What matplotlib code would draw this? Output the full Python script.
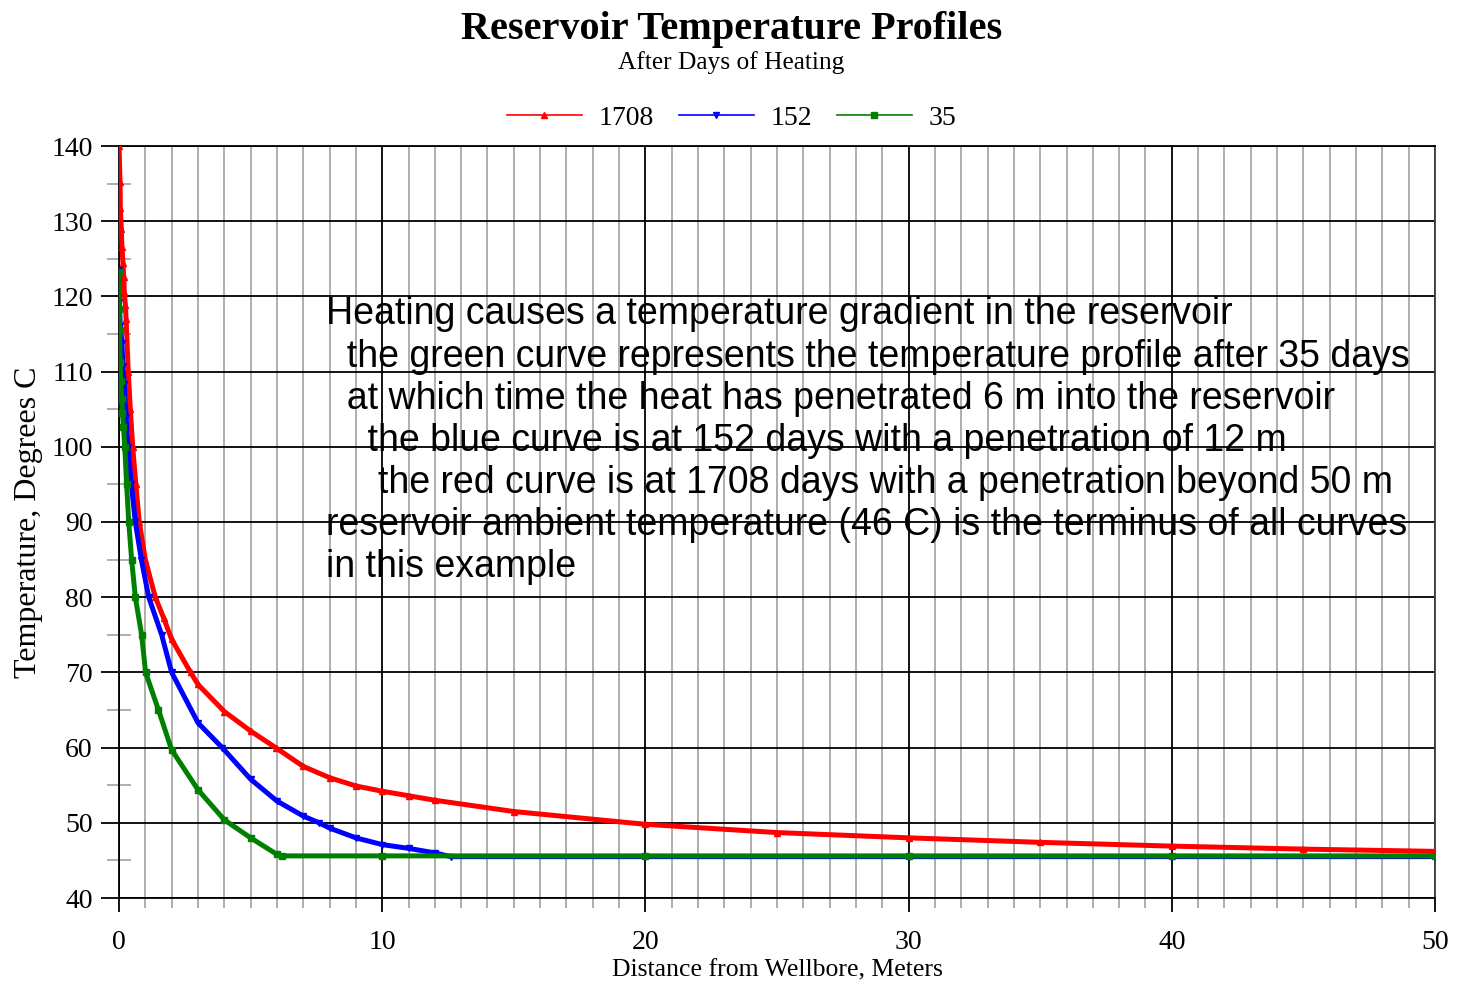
import numpy as np
import matplotlib.pyplot as plt
from matplotlib.lines import Line2D
from matplotlib.ticker import MultipleLocator

# red curve, 1708 days
x1708 = [0, 0.04, 0.05, 0.09, 0.11, 0.15, 0.18, 0.2, 0.24, 0.27, 0.35, 0.43, 0.52, 0.64, 0.77,
         1.0, 1.38, 1.7, 2.0, 2.72, 3, 4, 5, 5.95, 7, 8, 9, 10, 11, 12, 15, 20, 25, 30, 35, 40,
         45, 50]
t1708 = [140, 135.2, 131.7, 128.9, 126.6, 124.5, 122.6, 120.6, 118.9, 117, 110, 105, 100, 95, 90,
         85, 80, 77.2, 74.4, 70, 68.4, 64.8, 62.2, 60, 57.5, 56.0, 54.9, 54.2, 53.6, 53.0, 51.5,
         49.8, 48.7, 48.0, 47.4, 46.9, 46.5, 46.2]

# blue curve, 152 days
x152 = [0, 0.01, 0.05, 0.11, 0.15, 0.2, 0.27, 0.34, 0.47, 0.62, 0.85, 1.13, 1.62, 2.0, 3, 3.92,
        5, 6, 7, 7.6, 8, 9, 10, 11, 12, 12.6, 20, 30, 40, 50]
t152 = [123.5, 119.2, 116, 113.8, 110.7, 108.4, 104, 100, 95, 90, 85, 80, 75, 70, 63.3, 60,
        55.8, 52.9, 50.9, 50, 49.3, 48.0, 47.1, 46.6, 46.0, 45.5, 45.5, 45.5, 45.5, 45.5]

# green curve, 35 days
x35 = [0, 0.01, 0.02, 0.04, 0.07, 0.1, 0.13, 0.17, 0.22, 0.29, 0.37, 0.48, 0.62, 0.86, 1.01,
       1.5, 2, 3, 4, 5, 6, 6.2, 10, 20, 30, 40, 50]
t35 = [123.3, 118.3, 115.5, 111.3, 108.7, 106.3, 104.5, 102.6, 100, 95, 90, 85, 80, 75, 70,
       65, 59.7, 54.4, 50.4, 48.0, 45.8, 45.6, 45.6, 45.6, 45.6, 45.6, 45.6]

series = [("1708", x1708, t1708, "#ff0000", "^"),
          ("152", x152, t152, "#0000ff", "v"),
          ("35", x35, t35, "#008000", "s")]

note = ("Heating causes a temperature gradient in the reservoir\n"
        "  the green curve represents the temperature profile after 35 days\n"
        "  at which time the heat has penetrated 6 m into the reservoir\n"
        "    the blue curve is at 152 days with a penetration of 12 m\n"
        "     the red curve is at 1708 days with a penetration beyond 50 m\n"
        "reservoir ambient temperature (46 C) is the terminus of all curves\n"
        "in this example")

serif = "Liberation Serif"

fig = plt.figure(figsize=(14.63, 9.81), dpi=100)
ax = fig.add_axes([119/1463, 1-898/981, (1435-119)/1463, (898-146)/981])

ax.set_xlim(0, 50)
ax.set_ylim(40, 140)
ax.xaxis.set_major_locator(MultipleLocator(10))
ax.xaxis.set_minor_locator(MultipleLocator(1))
ax.yaxis.set_major_locator(MultipleLocator(10))
ax.yaxis.set_minor_locator(MultipleLocator(5))

ax.grid(which="minor", axis="x", color="#a8a8a8", lw=1.3)
ax.grid(which="major", axis="x", color="black", lw=1.3)
ax.grid(which="major", axis="y", color="black", lw=1.3)
ax.set_axisbelow(True)

ax.tick_params(axis="y", which="major", direction="out", length=13, width=1.3, color="black",
               pad=6, labelsize=20)
ax.tick_params(axis="y", which="minor", direction="inout", length=17, width=1.3, color="#a8a8a8")
ax.tick_params(axis="x", which="major", direction="out", length=10, width=1.3, color="black",
               pad=13, labelsize=20)
ax.tick_params(axis="x", which="minor", direction="out", length=7, width=1.3, color="#a8a8a8")
for lab in ax.get_xticklabels() + ax.get_yticklabels():
    lab.set_family(serif)
for s in ax.spines.values():
    s.set_linewidth(1.3)
ax.spines["right"].set_color("#404040")

for name, xs, ts, c, m in series:
    ax.plot(xs, ts, color=c, lw=3.6, marker=m, ms=4.5, mec=c, zorder=3)

ax.set_xlabel("Distance from Wellbore, Meters", family=serif, fontsize=18.5, labelpad=3)
ax.set_ylabel("Temperature, Degrees C", family=serif, fontsize=23, labelpad=6)

ax.text(7.85, 120.0, note, family="Liberation Sans", fontsize=27, va="top", ha="left",
        linespacing=1.22, zorder=4)

fig.text(0.5, 1-29/981, "Reservoir Temperature Profiles", family=serif, fontweight="bold",
         fontsize=29, ha="center", va="center")
fig.text(0.5, 1-63/981, "After Days of Heating", family=serif, fontsize=18.3,
         ha="center", va="center")

handles = [Line2D([], [], color=c, lw=1.2, marker=m, ms=4, label=name)
           for name, xs, ts, c, m in series]
fig.legend(handles=handles, loc="center", bbox_to_anchor=(0.5, 1-118/981), ncol=3,
           frameon=False, prop={"family": serif, "size": 20}, handlelength=2.7,
           handletextpad=0.6, columnspacing=0.9, numpoints=1)

fig.savefig("out.png", dpi=100)
